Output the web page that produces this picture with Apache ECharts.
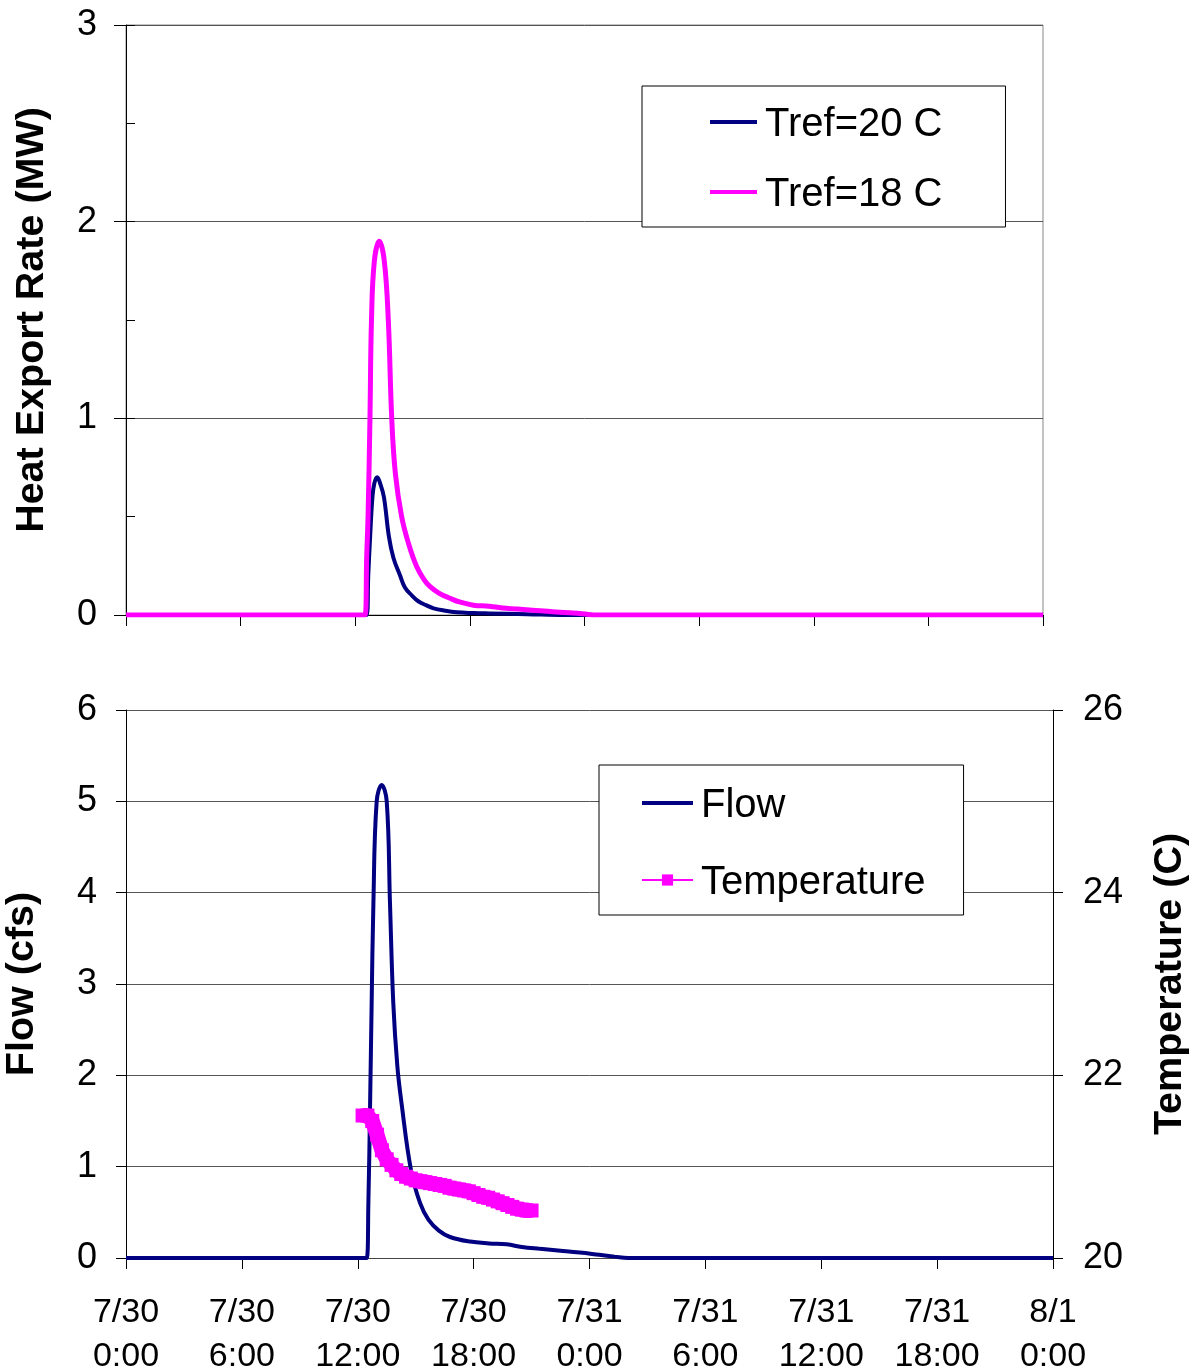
<!DOCTYPE html>
<html>
<head>
<meta charset="utf-8">
<script src="https://cdn.jsdelivr.net/npm/echarts@6/dist/echarts.min.js"></script>
<style>
html,body{margin:0;padding:0;background:#fff;}
#chart{width:1196px;height:1372px;}
</style>
</head>
<body>
<div id="chart"></div>
<script>
// Time axis: hours since 7/30 0:00
const xTickLabels = ['7/30\n0:00','7/30\n6:00','7/30\n12:00','7/30\n18:00','7/31\n0:00','7/31\n6:00','7/31\n12:00','7/31\n18:00','8/1\n0:00'];

// Top panel: heat export rate (MW)
const tref20Hours  = [0, 12.6, 12.68, 12.78, 12.9, 13.0, 13.15, 13.3, 13.5, 13.76, 14.0, 14.35, 14.6, 14.96, 15.3, 15.7, 16.1, 16.7, 17.3, 18.2, 19.0, 21.0, 23.0, 48];
const tref20Values = [0, 0,    0.20,  0.40,  0.60, 0.67, 0.70,  0.67, 0.60, 0.40,  0.29, 0.20,  0.14, 0.10,  0.07, 0.05, 0.034, 0.022, 0.014, 0.010, 0.008, 0.004, 0, 0];

const tref18Hours  = [0, 12.51, 12.6, 12.67, 12.77, 12.85, 13.0, 13.26, 13.52, 13.73, 13.91, 14.1, 14.43, 14.8, 15.22, 15.6, 15.92, 16.4, 16.96, 17.5, 18.18, 19.0, 19.9, 20.8, 21.7, 22.5, 23.4, 24.2, 24.6, 48];
const tref18Values = [0, 0,     0.30, 0.50,  1.00,  1.50,  1.80, 1.90,  1.80,  1.50,  1.00,  0.72, 0.50,  0.36, 0.245, 0.18, 0.144, 0.11, 0.085, 0.065, 0.05, 0.045, 0.034, 0.028, 0.022, 0.015, 0.01, 0.003, 0, 0];

// Bottom panel: flow (cfs)
const flowHours  = [0, 12.46, 12.55, 12.64, 12.72, 12.81, 12.98, 13.24, 13.5, 13.67, 13.84, 14.05, 14.27, 14.76, 15.23, 15.66, 16.2, 16.78, 17.81, 18.8, 19.71, 20.5, 21.44, 22.5, 23.5, 24.5, 25.3, 26.0, 48];
const flowValues = [0, 0,     0.60,  1.69,  2.79,  3.88,  5.00,  5.18,  5.00, 3.88,  2.79,  2.10,  1.69,  0.96,  0.60,  0.42,  0.30, 0.23,  0.18,  0.16, 0.15,  0.12, 0.10,  0.08, 0.06, 0.035, 0.015, 0, 0];

// Bottom panel: temperature (C)
const tempHours  = [12.25, 12.5, 12.75, 13.0, 13.25, 13.5, 13.75, 14.0, 14.25, 14.5, 14.75, 15.0, 15.25, 15.5, 15.75, 16.0, 16.25, 16.5, 16.75, 17.0, 17.25, 17.5, 17.75, 18.0, 18.25, 18.5, 18.75, 19.0, 19.25, 19.5, 19.75, 20.0, 20.25, 20.5, 20.75, 21.0];
const tempValues = [21.56, 21.56, 21.50, 21.35, 21.18, 21.08, 21.02, 20.96, 20.92, 20.89, 20.87, 20.85, 20.84, 20.83, 20.82, 20.81, 20.80, 20.79, 20.77, 20.76, 20.75, 20.74, 20.73, 20.71, 20.69, 20.67, 20.66, 20.64, 20.62, 20.60, 20.58, 20.56, 20.54, 20.53, 20.52, 20.52];

const pairs = (xs, ys) => xs.map((x, i) => [x, ys[i]]);

const FONT = 'Liberation Sans, Arial, sans-serif';
const NAVY = '#000080';
const MAGENTA = '#FF00FF';
const GRIDC = '#555';
const LINE_ICON = 'path://M0,0H100V8H0Z';

const chart = echarts.init(document.getElementById('chart'), null, {renderer: 'canvas'});

const xCommon = {
  type: 'value', min: 0, max: 48, interval: 6,
  axisLine: {show: true, onZero: false, lineStyle: {color: '#000', width: 1}},
  axisTick: {show: true, inside: false, length: 11, lineStyle: {color: '#000'}},
  splitLine: {show: false}
};
const titleStyle = {fontFamily: FONT, fontSize: 39.5, fontWeight: 'bold', color: '#000'};
const tickLabel = {show: true, color: '#000', fontFamily: FONT, fontSize: 36};
const legendText = {
  fontFamily: FONT, fontSize: 40, color: '#000', lineHeight: 40,
  rich: {a: {fontFamily: FONT, fontSize: 40, color: '#000', lineHeight: 40, padding: [6, 0, 0, 3]}}
};

chart.setOption({
  animation: false,
  backgroundColor: '#fff',
  textStyle: {fontFamily: FONT},
  grid: [
    {left: 126, top: 25, width: 917, height: 590, show: true, borderColor: '#888', borderWidth: 1,
      backgroundColor: 'transparent', containLabel: false, outerBoundsMode: 'none'},
    {left: 126, top: 710, width: 927, height: 548, show: false, containLabel: false, outerBoundsMode: 'none'}
  ],
  xAxis: [
    Object.assign({}, xCommon, {gridIndex: 0, axisLabel: {show: false}}),
    Object.assign({}, xCommon, {gridIndex: 1, axisLine: {show: true, onZero: false, lineStyle: {color: '#444', width: 1}},
      axisLabel: {show: true, margin: 33, color: '#000', fontFamily: FONT, fontSize: 34, lineHeight: 44,
        formatter: v => xTickLabels[Math.round(v / 6)]}})
  ],
  yAxis: [
    {type: 'value', gridIndex: 0, min: 0, max: 3, interval: 1, position: 'left',
      name: 'Heat Export Rate (MW)', nameLocation: 'middle', nameGap: 74, nameMoveOverlap: false,
      nameTextStyle: titleStyle,
      axisLine: {show: true, lineStyle: {color: '#000', width: 1}},
      axisTick: {show: true, inside: false, length: 12, lineStyle: {color: '#000'}},
      axisLabel: Object.assign({margin: 29}, tickLabel),
      splitLine: {show: true, lineStyle: {color: GRIDC, width: 1}}},
    {type: 'value', gridIndex: 0, min: 0, max: 3, interval: 0.5, position: 'left',
      axisLine: {show: false}, axisLabel: {show: false}, splitLine: {show: false},
      axisTick: {show: true, inside: true, length: 9, lineStyle: {color: '#000'}}},
    {type: 'value', gridIndex: 1, min: 0, max: 6, interval: 1, position: 'left',
      name: 'Flow (cfs)', nameLocation: 'middle', nameGap: 84, nameMoveOverlap: false,
      nameTextStyle: titleStyle,
      axisLine: {show: true, lineStyle: {color: '#000', width: 1}},
      axisTick: {show: true, inside: false, length: 10, lineStyle: {color: '#000'}},
      axisLabel: Object.assign({margin: 29}, tickLabel),
      splitLine: {show: true, lineStyle: {color: GRIDC, width: 1}}},
    {type: 'value', gridIndex: 1, min: 20, max: 26, interval: 2, position: 'right',
      name: 'Temperature (C)', nameLocation: 'middle', nameGap: 97, nameMoveOverlap: false,
      nameTextStyle: titleStyle,
      axisLine: {show: true, lineStyle: {color: '#000', width: 1}},
      axisTick: {show: true, inside: false, length: 10, lineStyle: {color: '#000'}},
      axisLabel: Object.assign({margin: 30}, tickLabel),
      splitLine: {show: false}}
  ],
  legend: [
    {data: [{name: 'Tref=20 C', icon: LINE_ICON}, {name: 'Tref=18 C', icon: LINE_ICON}],
      orient: 'vertical', left: 642, top: 86, formatter: '{a|{name}}',
      padding: [13, 63, 12, 68], itemGap: 24, itemWidth: 47, itemHeight: 14,
      borderColor: '#000', borderWidth: 1, backgroundColor: '#fff', borderRadius: 0,
      textStyle: legendText},
    {data: [{name: 'Flow', icon: LINE_ICON}, {name: 'Temperature'}],
      orient: 'vertical', left: 599, top: 765, formatter: '{a|{name}}',
      padding: [15, 38, 12, 42], itemGap: 31, itemWidth: 51, itemHeight: 14,
      borderColor: '#000', borderWidth: 1, backgroundColor: '#fff', borderRadius: 0,
      textStyle: legendText}
  ],
  series: [
    {name: 'Tref=20 C', type: 'line', xAxisIndex: 0, yAxisIndex: 0, data: pairs(tref20Hours, tref20Values),
      symbol: 'none', showSymbol: false, smooth: 0.4,
      lineStyle: {color: NAVY, width: 4}, itemStyle: {color: NAVY}, z: 3},
    {name: 'Tref=18 C', type: 'line', xAxisIndex: 0, yAxisIndex: 0, data: pairs(tref18Hours, tref18Values),
      symbol: 'none', showSymbol: false, smooth: 0.4,
      lineStyle: {color: MAGENTA, width: 5}, itemStyle: {color: MAGENTA}, z: 4},
    {name: 'Flow', type: 'line', xAxisIndex: 1, yAxisIndex: 2, data: pairs(flowHours, flowValues),
      symbol: 'none', showSymbol: false, smooth: 0.4,
      lineStyle: {color: NAVY, width: 4}, itemStyle: {color: NAVY}, z: 3},
    {name: 'Temperature', type: 'line', xAxisIndex: 1, yAxisIndex: 3, data: pairs(tempHours, tempValues),
      symbol: 'rect', symbolSize: 14, showSymbol: true, showAllSymbol: true,
      lineStyle: {color: MAGENTA, width: 15}, itemStyle: {color: MAGENTA, borderWidth: 0}, z: 4}
  ]
});
</script>
</body>
</html>
